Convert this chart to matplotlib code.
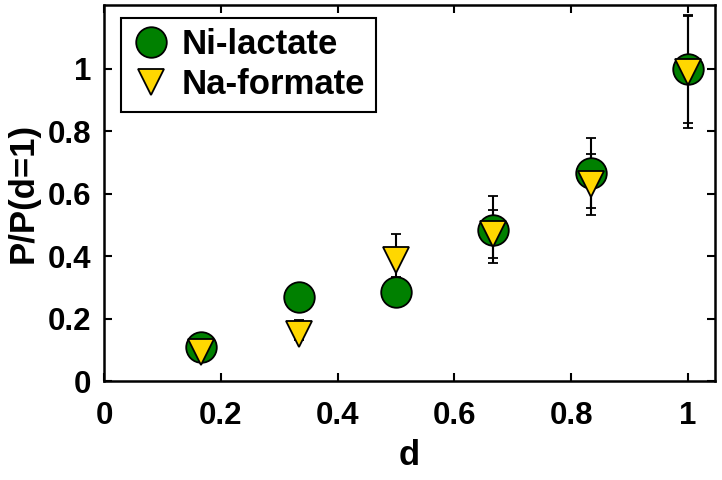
import matplotlib
matplotlib.use("Agg")
import matplotlib.pyplot as plt
from matplotlib.lines import Line2D

plt.rcParams["font.family"] = ["Liberation Sans", "DejaVu Sans"]
plt.rcParams["font.weight"] = "bold"

# values
d = [1 / 6, 1 / 3, 1 / 2, 2 / 3, 5 / 6, 1.0]
ni_lactate = [0.108, 0.269, 0.285, 0.485, 0.666, 1.0]
ni_err_low = [0.0, 0.0, 0.0, 0.108, 0.113, 0.172]
ni_err_high = [0.0, 0.0, 0.0, 0.108, 0.113, 0.172]
na_formate = [0.092, 0.151, 0.389, 0.470, 0.630, 0.99]
na_err_low = [0.0, 0.02, 0.055, 0.077, 0.097, 0.178]
na_err_high = [0.0, 0.045, 0.082, 0.077, 0.097, 0.178]

x_ticks = [0, 0.2, 0.4, 0.6, 0.8, 1]
y_ticks = [0, 0.2, 0.4, 0.6, 0.8, 1]
x_tick_labels = ["0", "0.2", "0.4", "0.6", "0.8", "1"]
y_tick_labels = ["0", "0.2", "0.4", "0.6", "0.8", "1"]

green = "#008000"
yellow = "#ffd700"

fig = plt.figure(figsize=(7.22, 4.8), dpi=100)
ax = fig.add_axes([0.144, 0.206, 0.846, 0.784])

ax.errorbar(d, ni_lactate, yerr=[ni_err_low, ni_err_high], fmt="o", color="black",
            markerfacecolor=green, markeredgecolor="black",
            markersize=22, markeredgewidth=1.3, elinewidth=1.5,
            capsize=3.6, capthick=1.5)
ax.errorbar(d, na_formate, yerr=[na_err_low, na_err_high], fmt="v", color="black",
            markerfacecolor=yellow, markeredgecolor="black",
            markersize=19, markeredgewidth=1.3, elinewidth=1.5,
            capsize=3.6, capthick=1.5)

ax.set_xlim(0, 1.046)
ax.set_ylim(0, 1.205)
ax.set_xticks(x_ticks)
ax.set_xticklabels(x_tick_labels)
ax.set_yticks(y_ticks)
ax.set_yticklabels(y_tick_labels)
ax.tick_params(direction="in", top=True, right=True, length=6, width=1.5,
               labelsize=22.5)
ax.tick_params(axis="x", pad=14)
ax.tick_params(axis="y", pad=9)
for spine in ax.spines.values():
    spine.set_linewidth(1.8)

ax.set_xlabel("d", fontsize=25, fontweight="bold", labelpad=6)
ax.set_ylabel("P/P(d=1)", fontsize=25, fontweight="bold", labelpad=6)

handles = [
    Line2D([], [], linestyle="none", marker="o", markersize=22,
           markerfacecolor=green, markeredgecolor="black", markeredgewidth=1.3),
    Line2D([], [], linestyle="none", marker="v", markersize=19,
           markerfacecolor=yellow, markeredgecolor="black", markeredgewidth=1.3),
]
leg = ax.legend(handles, ["Ni-lactate", "Na-formate"], loc="upper left",
                bbox_to_anchor=(0.028, 0.965), fontsize=25,
                frameon=True, fancybox=False, handletextpad=0.35,
                borderpad=0.3, labelspacing=0.2, handlelength=1.1,
                borderaxespad=0)
leg.get_frame().set_edgecolor("black")
leg.get_frame().set_linewidth(1.5)
leg.get_frame().set_alpha(1)
for t in leg.get_texts():
    t.set_fontweight("bold")

fig.savefig("out.png", dpi=100)
